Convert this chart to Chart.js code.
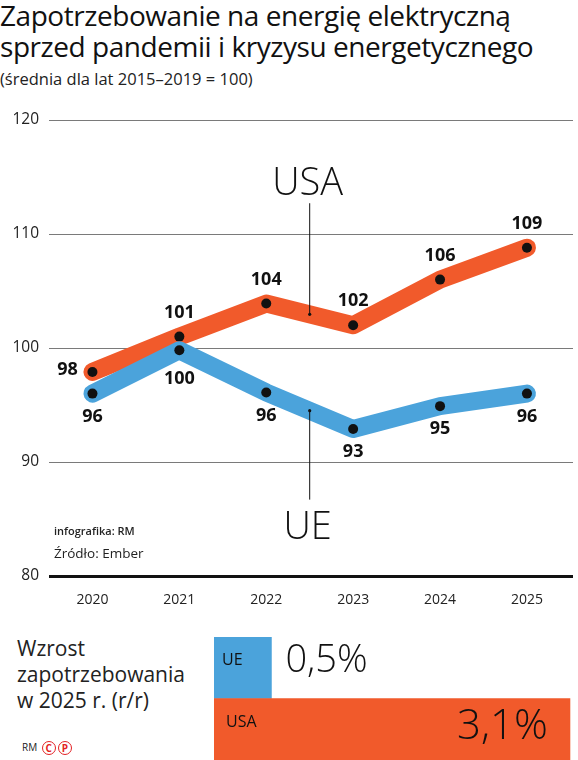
<!DOCTYPE html>
<html lang="pl">
<head>
<meta charset="utf-8">
<title>Zapotrzebowanie na energię elektryczną</title>
<script src="https://cdn.jsdelivr.net/npm/chart.js@4.4.1/dist/chart.umd.min.js"></script>
<style>
  html, body { margin: 0; padding: 0; background: #fff; }
  body { width: 578px; height: 760px; position: relative; overflow: hidden;
         font-family: "Open Sans", "Noto Sans", sans-serif; color: #111; }
  .abs { position: absolute; white-space: nowrap; }
  #title { left: 0; top: 0px; font-size: 28px; line-height: 31px; letter-spacing: -0.45px; }
  #sub { left: 0; top: 68px; font-size: 16.5px; line-height: 22px; color: #222; }
  #lineWrap { left: 0; top: 100px; width: 578px; height: 520px; }
  #barWrap { left: 214px; top: 637px; width: 364px; height: 123px; }
  #growth { left: 17px; top: 635px; font-size: 21px; line-height: 26px; color: #222; }
  #credit1 { left: 54px; top: 523px; font-size: 11px; font-weight: 600; color: #222; }
  #credit2 { left: 54px; top: 544px; font-size: 13.5px; color: #222; }
  #rm { left: 22px; top: 740px; font-size: 10px; color: #222; }
  .cp { display: inline-block; width: 12px; height: 12px; border: 1.6px solid #e32124; border-radius: 50%;
        color: #e32124; font-size: 10px; line-height: 12px; text-align: center; font-weight: 700;
        margin-left: 2px; vertical-align: middle; }
</style>
</head>
<body>
<div id="title" class="abs">Zapotrzebowanie na energię elektryczną<br>sprzed pandemii i kryzysu energetycznego</div>
<div id="sub" class="abs">(średnia dla lat 2015–2019 = 100)</div>
<div id="lineWrap" class="abs"><canvas id="lineChart" width="578" height="520"></canvas></div>
<div id="credit1" class="abs">infografika: RM</div>
<div id="credit2" class="abs">Źródło: Ember</div>
<div id="growth" class="abs">Wzrost<br>zapotrzebowania<br>w 2025 r. (r/r)</div>
<div id="barWrap" class="abs"><canvas id="barChart" width="364" height="123"></canvas></div>
<div id="rm" class="abs">RM <span class="cp">C</span><span class="cp">P</span></div>

<script>
// dane
const lata = [2020, 2021, 2022, 2023, 2024, 2025];
const usa = [97.9, 101.0, 103.9, 102.0, 106.0, 108.8];
const ue = [96.0, 99.8, 96.1, 92.9, 94.9, 96.0];
const usaEtykiety = ["98", "101", "104", "102", "106", "109"];
const ueEtykiety = ["96", "100", "96", "93", "95", "96"];
const yTicks = [80, 90, 100, 110, 120];

const kraje = ["UE", "USA"];
const wzrost2025 = [0.5, 3.1];
const wzrostEtykiety = ["0,5%", "3,1%"];

const POMARANCZ = "#f15a2b";
const NIEBIESKI = "#4ba3db";
const FONT = '"Open Sans", "Noto Sans", sans-serif';

// etykiety wartości + opisy USA / UE ze wskaźnikami
const etykietyPlugin = {
  id: "etykiety",
  afterDatasetsDraw(chart) {
    const ctx = chart.ctx;
    const x = chart.scales.x;
    const y = chart.scales.y;
    ctx.save();
    ctx.fillStyle = "#111";
    ctx.font = "bold 18px " + FONT;
    ctx.textAlign = "center";
    ctx.textBaseline = "middle";

    chart.data.datasets.forEach((ds, di) => {
      const meta = chart.getDatasetMeta(di);
      meta.data.forEach((pt, i) => {
        let dx = 0, dy;
        if (ds.label === "USA") {
          dy = -24;
          if (i === 0) { dx = -25; dy = -2; }
        } else {
          dy = 23;
          if (i === 1) dy = 29;
        }
        ctx.fillText(ds.etykiety[i], pt.x + dx, pt.y + dy);
      });
    });

    // wskaźniki
    const xs = x.getPixelForValue(2022.5);
    const usaMid = (usa[2] + usa[3]) / 2;
    const ueMid = (ue[2] + ue[3]) / 2;
    ctx.strokeStyle = "#111";
    ctx.lineWidth = 1;
    ctx.beginPath();
    ctx.moveTo(xs, y.getPixelForValue(112.7));
    ctx.lineTo(xs, y.getPixelForValue(usaMid));
    ctx.moveTo(xs, y.getPixelForValue(ueMid));
    ctx.lineTo(xs, y.getPixelForValue(86.7));
    ctx.stroke();
    [usaMid, ueMid].forEach(v => {
      ctx.beginPath();
      ctx.arc(xs, y.getPixelForValue(v), 1.6, 0, Math.PI * 2);
      ctx.fill();
    });

    ctx.font = "300 38px " + FONT;
    ctx.fillText("USA", xs - 2, y.getPixelForValue(114.4));
    ctx.fillText("UE", xs - 2, y.getPixelForValue(84.2));
    ctx.restore();
  }
};

const lineCtx = document.getElementById("lineChart").getContext("2d");
const lineChart = new Chart(lineCtx, {
  type: "line",
  data: {
    datasets: [
      {
        label: "UE",
        data: lata.map((r, i) => ({ x: r, y: ue[i] })),
        etykiety: ueEtykiety,
        borderColor: NIEBIESKI,
        order: 0
      },
      {
        label: "USA",
        data: lata.map((r, i) => ({ x: r, y: usa[i] })),
        etykiety: usaEtykiety,
        borderColor: POMARANCZ,
        order: 1
      }
    ].map(ds => Object.assign(ds, {
      borderWidth: 18,
      borderCapStyle: "round",
      borderJoinStyle: "round",
      pointRadius: 5,
      pointBorderWidth: 0,
      pointBackgroundColor: "#111",
      tension: 0,
      clip: false
    }))
  },
  options: {
    responsive: false,
    animation: false,
    events: [],
    layout: { padding: { top: 20, right: 2, left: 0, bottom: 0 } },
    plugins: { legend: { display: false }, tooltip: { enabled: false } },
    scales: {
      x: {
        type: "linear",
        min: 2019.5,
        max: 2025.53,
        afterBuildTicks: (s) => { s.ticks = lata.map(v => ({ value: v })); },
        afterFit: (s) => { s.height = 44; },
        grid: { display: false },
        border: { display: false },
        ticks: {
          padding: 8,
          color: "#222",
          font: { family: FONT, size: 14 },
          callback: (v) => String(v)
        }
      },
      y: {
        min: 80,
        max: 120,
        afterBuildTicks: (s) => { s.ticks = yTicks.map(v => ({ value: v })); },
        afterFit: (s) => { s.width = 49; },
        border: { display: false },
        grid: {
          drawTicks: false,
          color: (c) => (c.tick && c.tick.value === 80 ? "#111" : "#7a7a7a"),
          lineWidth: (c) => (c.tick && c.tick.value === 80 ? 3 : 1)
        },
        ticks: {
          padding: 10,
          color: "#222",
          font: { family: FONT, size: 15.5 }
        }
      }
    }
  },
  plugins: [etykietyPlugin]
});

// słupki wzrostu 2025
const slupkiPlugin = {
  id: "slupkiEtykiety",
  afterDatasetsDraw(chart) {
    const ctx = chart.ctx;
    const meta = chart.getDatasetMeta(0);
    ctx.save();
    ctx.fillStyle = "#111";
    ctx.textBaseline = "middle";
    meta.data.forEach((bar, i) => {
      const lewo = bar.base;
      ctx.font = "16px " + FONT;
      ctx.textAlign = "left";
      ctx.fillText(kraje[i], lewo + (i === 0 ? 8 : 12), bar.y - 7);
      if (i === 0) {
        ctx.font = "300 38px " + FONT;
        ctx.textAlign = "left";
        ctx.fillText(wzrostEtykiety[i], bar.x + 14, bar.y - 7);
      } else {
        ctx.font = "300 42px " + FONT;
        ctx.textAlign = "right";
        ctx.fillText(wzrostEtykiety[i], bar.x - 22, bar.y - 2);
      }
    });
    ctx.restore();
  }
};

const barCtx = document.getElementById("barChart").getContext("2d");
const barChart = new Chart(barCtx, {
  type: "bar",
  data: {
    labels: kraje,
    datasets: [{
      data: wzrost2025,
      backgroundColor: [NIEBIESKI, POMARANCZ],
      borderWidth: 0,
      barPercentage: 1,
      categoryPercentage: 1
    }]
  },
  options: {
    indexAxis: "y",
    responsive: false,
    animation: false,
    events: [],
    layout: { padding: 0 },
    plugins: { legend: { display: false }, tooltip: { enabled: false } },
    scales: {
      x: { display: false, min: 0, max: 3.17 },
      y: { display: false }
    }
  },
  plugins: [slupkiPlugin]
});
</script>
</body>
</html>
